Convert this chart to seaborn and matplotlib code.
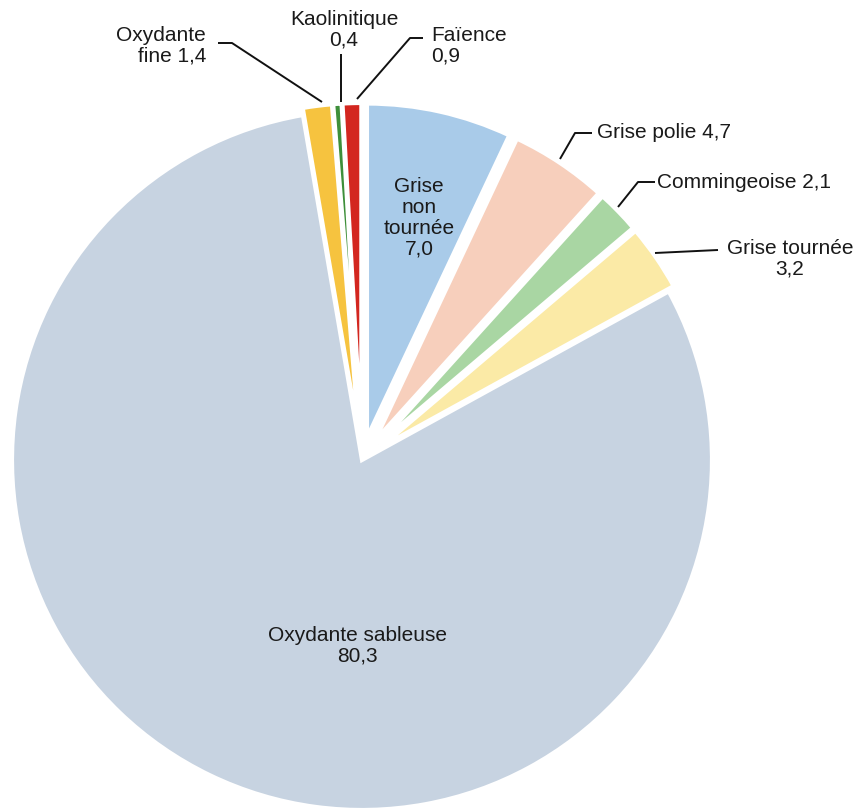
import matplotlib
matplotlib.use("Agg")
import matplotlib.pyplot as plt
import seaborn as sns

sns.set_theme(style="white")
plt.rcParams['font.family'] = ['Liberation Sans', 'DejaVu Sans']

categories = ["Grise non tournée", "Grise polie", "Commingeoise", "Grise tournée",
              "Oxydante sableuse", "Oxydante fine", "Kaolinitique", "Faïence"]
values = [7.0, 4.7, 2.1, 3.2, 80.3, 1.4, 0.4, 0.9]
value_labels = ["7,0", "4,7", "2,1", "3,2", "80,3", "1,4", "0,4", "0,9"]
colors = ["#a9cbe9", "#f7cfbc", "#a9d6a3", "#fbeaa6",
          "#c7d3e1", "#f6c33f", "#3e8f3a", "#d3261f"]

W, H = 863, 812
CX, CY, R = 362, 461, 350  # pixel centre and radius of the pie


def px(x, y):
    return ((x - CX) / R, (CY - y) / R)


fig = plt.figure(figsize=(W / 100, H / 100), dpi=100)
ax = fig.add_axes([0, 0, 1, 1])

explode = [0.0 if c == "Oxydante sableuse" else 0.065 for c in categories]
wedges, _ = ax.pie(values, colors=colors, startangle=90, counterclock=False,
                   explode=explode, radius=1.0,
                   wedgeprops=dict(edgecolor="white", linewidth=3))
for c, w in zip(categories, wedges):
    if c != "Oxydante sableuse":
        w.set_radius(0.955)

ax.set_xlim(px(0, 0)[0], px(W, 0)[0])
ax.set_ylim(px(0, H)[1], px(0, 0)[1])
ax.set_aspect("equal")
ax.axis("off")

fs = 15
ls = 1.13
tc = "#1a1a1a"
lab = dict(zip(categories, value_labels))

ax.text(*px(419, 218), "Grise\nnon\ntournée\n" + lab["Grise non tournée"],
        ha="center", va="center", fontsize=fs, color=tc, linespacing=ls)
ax.text(*px(357, 646), "Oxydante sableuse\n" + lab["Oxydante sableuse"],
        ha="center", va="center", fontsize=fs, color=tc, linespacing=ls)
ax.text(*px(597, 133), "Grise polie " + lab["Grise polie"],
        ha="left", va="center", fontsize=fs, color=tc)
ax.text(*px(657, 183), "Commingeoise " + lab["Commingeoise"],
        ha="left", va="center", fontsize=fs, color=tc)
ax.text(*px(790, 259), "Grise tournée\n" + lab["Grise tournée"],
        ha="center", va="center", fontsize=fs, color=tc, linespacing=ls)
ax.text(*px(206, 46), "Oxydante\nfine " + lab["Oxydante fine"],
        ha="right", va="center", fontsize=fs, color=tc, linespacing=ls)
ax.text(*px(344, 30), "Kaolinitique\n" + lab["Kaolinitique"],
        ha="center", va="center", fontsize=fs, color=tc, linespacing=ls)
ax.text(*px(431, 46), "Faïence\n" + lab["Faïence"],
        ha="left", va="center", fontsize=fs, color=tc, linespacing=ls)

leaders = [
    [(218, 44), (232, 44), (322, 103)],
    [(341, 55), (341, 103)],
    [(423, 39), (410, 39), (357, 100)],
    [(592, 134), (575, 134), (560, 160)],
    [(655, 183), (638, 183), (618, 208)],
    [(718, 251), (655, 254)],
]
for pts in leaders:
    xs, ys = zip(*[px(x, y) for x, y in pts])
    ax.plot(xs, ys, color="#111111", lw=1.4, solid_capstyle="butt")

fig.savefig("out.png", dpi=100, facecolor="white")
